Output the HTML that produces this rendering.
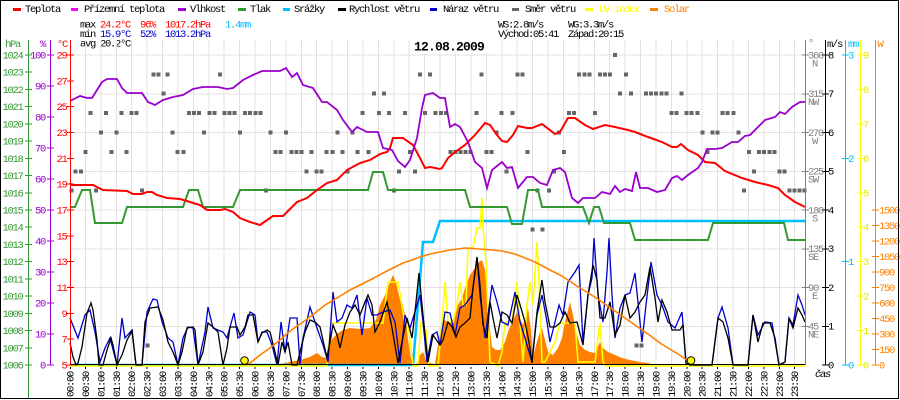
<!DOCTYPE html>
<html><head><meta charset="utf-8"><style>
html,body{margin:0;padding:0;background:#fff;}
svg{display:block;}
text{font-family:"Liberation Mono",monospace;font-size:10.5px;letter-spacing:-1.3px;}
</style></head><body>
<svg width="900" height="400" viewBox="0 0 900 400" xmlns="http://www.w3.org/2000/svg">
<rect x="0" y="0" width="900" height="400" fill="#fff"/>
<!-- legend -->
<g stroke-width="3">
<line x1="13" y1="9.5" x2="21" y2="9.5" stroke="#ff0000"/>
<line x1="71" y1="9.5" x2="78" y2="9.5" stroke="#ff00ff"/>
<line x1="178" y1="9.5" x2="186" y2="9.5" stroke="#9900cc"/>
<line x1="238" y1="9.5" x2="246" y2="9.5" stroke="#339933"/>
<line x1="283" y1="9.5" x2="290" y2="9.5" stroke="#00bfff"/>
<line x1="338" y1="9.5" x2="346" y2="9.5" stroke="#000"/>
<line x1="430" y1="9.5" x2="437" y2="9.5" stroke="#0000cc"/>
<line x1="512" y1="9.5" x2="519" y2="9.5" stroke="#666"/>
<line x1="585" y1="9.5" x2="593" y2="9.5" stroke="#ffff00"/>
<line x1="650" y1="9.5" x2="658" y2="9.5" stroke="#ff8000"/>
</g>
<g fill="#000">
<text x="25" y="12">Teplota</text>
<text x="84" y="12">Přízemní teplota</text>
<text x="190" y="12">Vlhkost</text>
<text x="250" y="12">Tlak</text>
<text x="294" y="12">Srážky</text>
<text x="349" y="12">Rychlost větru</text>
<text x="443" y="12">Náraz větru</text>
<text x="525" y="12">Směr větru</text>
<text x="599" y="12" fill="#ffff00">UV index</text>
<text x="664" y="12" fill="#ff8000">Solar</text>
</g>
<!-- stats -->
<text x="80" y="27.5">max</text>
<text x="100" y="27.5" fill="#ff0000">24.2°C</text>
<text x="140" y="27.5" fill="#ff0000">96%</text>
<text x="165" y="27.5" fill="#ff0000">1017.2hPa</text>
<text x="225" y="27.5" fill="#00bfff">1.4mm</text>
<text x="80" y="37">min</text>
<text x="100" y="37" fill="#0000cc">15.9°C</text>
<text x="140" y="37" fill="#0000cc">52%</text>
<text x="165" y="37" fill="#0000cc">1013.2hPa</text>
<text x="80" y="46.5">avg 20.2°C</text>
<text x="498" y="27.5">WS:2.8m/s</text>
<text x="568" y="27.5">WG:3.3m/s</text>
<text x="498" y="37">Východ:05:41</text>
<text x="568" y="37">Západ:20:15</text>

<!-- grid -->
<g stroke="#e4e0e0" stroke-width="1" shape-rendering="crispEdges">
<line x1="70" y1="55" x2="805" y2="55"/>
<line x1="70" y1="93.75" x2="805" y2="93.75"/>
<line x1="70" y1="132.5" x2="805" y2="132.5"/>
<line x1="70" y1="171.25" x2="805" y2="171.25"/>
<line x1="70" y1="210" x2="805" y2="210"/>
<line x1="70" y1="248.75" x2="805" y2="248.75"/>
<line x1="70" y1="287.5" x2="805" y2="287.5"/>
<line x1="70" y1="326.25" x2="805" y2="326.25"/>
<line x1="85.4" y1="40" x2="85.4" y2="365"/>
<line x1="100.8" y1="40" x2="100.8" y2="365"/>
<line x1="116.3" y1="40" x2="116.3" y2="365"/>
<line x1="131.7" y1="40" x2="131.7" y2="365"/>
<line x1="147.1" y1="40" x2="147.1" y2="365"/>
<line x1="162.5" y1="40" x2="162.5" y2="365"/>
<line x1="177.9" y1="40" x2="177.9" y2="365"/>
<line x1="193.4" y1="40" x2="193.4" y2="365"/>
<line x1="208.8" y1="40" x2="208.8" y2="365"/>
<line x1="224.2" y1="40" x2="224.2" y2="365"/>
<line x1="239.6" y1="40" x2="239.6" y2="365"/>
<line x1="255" y1="40" x2="255" y2="365"/>
<line x1="270.5" y1="40" x2="270.5" y2="365"/>
<line x1="285.9" y1="40" x2="285.9" y2="365"/>
<line x1="301.3" y1="40" x2="301.3" y2="365"/>
<line x1="316.7" y1="40" x2="316.7" y2="365"/>
<line x1="332.1" y1="40" x2="332.1" y2="365"/>
<line x1="347.6" y1="40" x2="347.6" y2="365"/>
<line x1="363" y1="40" x2="363" y2="365"/>
<line x1="378.4" y1="40" x2="378.4" y2="365"/>
<line x1="393.8" y1="40" x2="393.8" y2="365"/>
<line x1="409.2" y1="40" x2="409.2" y2="365"/>
<line x1="424.7" y1="40" x2="424.7" y2="365"/>
<line x1="440.1" y1="40" x2="440.1" y2="365"/>
<line x1="455.5" y1="40" x2="455.5" y2="365"/>
<line x1="470.9" y1="40" x2="470.9" y2="365"/>
<line x1="486.3" y1="40" x2="486.3" y2="365"/>
<line x1="501.8" y1="40" x2="501.8" y2="365"/>
<line x1="517.2" y1="40" x2="517.2" y2="365"/>
<line x1="532.6" y1="40" x2="532.6" y2="365"/>
<line x1="548" y1="40" x2="548" y2="365"/>
<line x1="563.4" y1="40" x2="563.4" y2="365"/>
<line x1="578.9" y1="40" x2="578.9" y2="365"/>
<line x1="594.3" y1="40" x2="594.3" y2="365"/>
<line x1="609.7" y1="40" x2="609.7" y2="365"/>
<line x1="625.1" y1="40" x2="625.1" y2="365"/>
<line x1="640.5" y1="40" x2="640.5" y2="365"/>
<line x1="656" y1="40" x2="656" y2="365"/>
<line x1="671.4" y1="40" x2="671.4" y2="365"/>
<line x1="686.8" y1="40" x2="686.8" y2="365"/>
<line x1="702.2" y1="40" x2="702.2" y2="365"/>
<line x1="717.6" y1="40" x2="717.6" y2="365"/>
<line x1="733.1" y1="40" x2="733.1" y2="365"/>
<line x1="748.5" y1="40" x2="748.5" y2="365"/>
<line x1="763.9" y1="40" x2="763.9" y2="365"/>
<line x1="779.3" y1="40" x2="779.3" y2="365"/>
<line x1="794.7" y1="40" x2="794.7" y2="365"/>
</g>
<rect x="412" y="40" width="75" height="13" fill="#fff"/>
<text x="414" y="50.5" style="font-size:13px;font-weight:bold;letter-spacing:-0.8px">12.08.2009</text>

<!-- solar measured -->
<polygon fill="#ff8000" points="266,365 280,364 290,362 300,360 310,357 317,353 322,357 326,358 328,345 333,338 338,333 343,330 350,328 360,329 370,328 376,320 380,305 385,295 390,282 393,275 396,282 400,300 403,305 406,320 408,340 411,358 413,363 416,365 420,355 423,352 426,360 430,363 435,364 438,345 441,328 444,320 448,322 452,323 455,315 458,305 462,298 466,285 470,275 475,268 479,262 482,260 485,270 488,305 490,330 492,347 496,350 500,350 505,342 508,332 512,322 517,312 520,318 523,325 526,316 528,308 531,330 533,358 536,345 539,335 542,328 545,340 548,352 553,355 558,348 562,338 565,322 568,310 570,302 573,315 576,332 580,345 585,350 590,352 595,353 600,342 603,348 608,352 615,355 622,358 630,360 640,362 648,363 655,365"/>

<!-- rain -->
<polyline fill="none" stroke="#00bfff" stroke-width="2.5" points="70,365 413,365 423,242 433,242 440,221 805,221"/>

<!-- UV -->
<polyline fill="none" stroke="#ffff00" stroke-width="1.6" points="70,366 327,366 331,323 383,323 388,282 398,282 405,323 408,323 413,366 418,366 421,322 426,330 429,366 438,366 442,322 445,282 448,322 453,322 457,305 460,282 463,305 466,305 468,248 473,248 477,228 480,228 482,198 483,228 486,262 490,362 498,366 502,352 505,322 512,322 517,282 520,322 523,362 527,305 530,282 533,305 537,242 539,282 542,362 545,362 550,352 555,342 560,323 575,323 578,362 595,362 598,338 600,323 603,362 606,366 805,366"/>

<!-- gust -->
<polyline fill="none" stroke="#0000cc" stroke-width="1.3" points="70,318 78,338 85,315 90,310 95,332 100,362 105,348 110,338 117,365 122,318 125,338 132,330 136,365 142,365 147,312 153,299 157,300 162,322 168,338 173,342 178,365 183,338 188,327 193,328 198,365 205,332 208,307 213,328 223,332 227,338 230,327 234,313 238,338 243,335 250,312 255,315 258,342 262,332 267,332 272,345 277,365 281,322 285,352 290,318 297,318 300,365 303,338 310,307 317,328 323,345 328,362 333,292 337,322 342,318 347,305 352,308 357,295 362,335 367,298 372,315 377,315 383,312 390,310 395,322 400,363 405,315 410,328 417,305 420,295 423,322 427,362 432,335 437,332 440,345 445,312 450,313 455,335 460,308 465,305 472,295 477,258 480,295 485,338 492,285 497,302 502,322 508,325 515,292 520,322 525,338 532,362 537,315 542,295 547,322 550,342 555,322 559,305 563,315 568,282 575,272 579,265 583,342 588,295 592,278 594,238 598,295 603,322 607,272 609,238 612,295 615,338 620,308 625,295 630,293 635,273 642,342 646,305 651,262 657,295 662,305 668,322 675,328 682,312 686,363 690,365 712,365 718,318 722,307 728,328 733,365 748,365 753,315 758,335 765,322 772,323 779,365 785,362 789,318 793,325 798,295 802,305 805,315"/>

<!-- wind speed -->
<polyline fill="none" stroke="#000" stroke-width="1.3" points="70,343 73,357 76,365 78,363 82,347 87,313 91,303 93,310 97,340 99,365 103,365 107,350 111,338 113,345 117,365 122,355 127,340 132,331 136,365 142,365 145,322 150,308 158,307 163,320 168,342 173,352 178,365 182,352 187,328 193,327 195,330 198,365 203,352 208,323 213,327 218,332 223,365 227,348 230,327 237,327 240,335 245,327 248,315 253,315 258,342 262,333 267,330 270,332 274,348 278,365 282,342 285,352 288,342 292,365 297,365 300,352 305,332 310,320 315,322 320,327 327,358 330,342 333,325 337,335 340,348 345,325 350,312 355,305 360,315 365,302 368,295 372,305 375,332 380,322 387,302 392,328 398,363 402,342 407,318 412,338 415,312 419,273 423,315 428,362 433,335 440,345 443,340 448,322 452,327 456,337 460,327 465,323 470,318 473,288 477,257 480,285 483,325 487,338 490,302 493,318 497,338 502,312 507,315 512,323 517,295 521,308 525,322 529,342 532,363 537,312 542,280 545,302 550,327 555,327 560,323 565,312 570,323 577,322 583,345 588,295 593,265 597,280 600,318 605,318 610,302 615,335 620,325 625,295 630,318 635,312 640,302 645,295 650,267 655,298 658,322 662,300 667,312 672,330 680,330 683,325 686,363 690,365 712,365 718,318 723,322 728,338 733,365 748,365 753,315 758,342 763,323 770,323 775,338 779,365 785,362 789,318 793,328 798,308 802,315 805,322"/>

<!-- theoretical solar -->
<polyline fill="none" stroke="#ff8000" stroke-width="1.6" points="244,365 250,363 260,355 270,348 280,340 290,331 303,322 315,313 325,305 337,298 350,290 360,285 370,280 385,272 395,267 403,263 412,260 420,257 430,254 440,252 450,250 465,248 480,249 492,250 502,251 515,254 525,258 535,262 550,270 560,275 568,280 580,288 590,294 602,302 615,311 625,318 635,325 648,334 660,343 668,348 678,354 688,361 692,364"/>
<circle cx="244.5" cy="360.5" r="3.8" fill="#ffff00" stroke="#000" stroke-width="1"/>
<circle cx="691" cy="360.5" r="3.8" fill="#ffff00" stroke="#000" stroke-width="1"/>

<!-- wind direction squares -->
<g fill="#666" shape-rendering="crispEdges" transform="translate(0.5,0.5)">
<rect x="150.8" y="71.9" width="4" height="4"/><rect x="155.8" y="71.9" width="4" height="4"/><rect x="165.2" y="71.9" width="4" height="4"/><rect x="217.5" y="71.9" width="4" height="4"/><rect x="417.5" y="71.9" width="4" height="4"/><rect x="427.5" y="71.9" width="4" height="4"/><rect x="479.2" y="71.9" width="4" height="4"/><rect x="515.2" y="71.9" width="4" height="4"/><rect x="520.2" y="71.9" width="4" height="4"/><rect x="576.5" y="71.9" width="4" height="4"/><rect x="581.8" y="71.9" width="4" height="4"/><rect x="586.8" y="71.9" width="4" height="4"/><rect x="597.5" y="71.9" width="4" height="4"/><rect x="602.5" y="71.9" width="4" height="4"/><rect x="607.5" y="71.9" width="4" height="4"/><rect x="623.5" y="71.9" width="4" height="4"/>
<rect x="160.8" y="91.2" width="4" height="4"/><rect x="371.5" y="91.2" width="4" height="4"/><rect x="381.5" y="91.2" width="4" height="4"/><rect x="617.5" y="91.2" width="4" height="4"/><rect x="628.5" y="91.2" width="4" height="4"/><rect x="643.5" y="91.2" width="4" height="4"/><rect x="648.5" y="91.2" width="4" height="4"/><rect x="653.5" y="91.2" width="4" height="4"/><rect x="659.2" y="91.2" width="4" height="4"/><rect x="664.2" y="91.2" width="4" height="4"/><rect x="679.2" y="91.2" width="4" height="4"/>
<rect x="88.2" y="110.6" width="4" height="4"/><rect x="103.5" y="110.6" width="4" height="4"/><rect x="119.2" y="110.6" width="4" height="4"/><rect x="129.2" y="110.6" width="4" height="4"/><rect x="134.2" y="110.6" width="4" height="4"/><rect x="186.5" y="110.6" width="4" height="4"/><rect x="191.5" y="110.6" width="4" height="4"/><rect x="196.5" y="110.6" width="4" height="4"/><rect x="206.8" y="110.6" width="4" height="4"/><rect x="211.8" y="110.6" width="4" height="4"/><rect x="222.2" y="110.6" width="4" height="4"/><rect x="227.2" y="110.6" width="4" height="4"/><rect x="232.2" y="110.6" width="4" height="4"/><rect x="242.5" y="110.6" width="4" height="4"/><rect x="247.5" y="110.6" width="4" height="4"/><rect x="252.8" y="110.6" width="4" height="4"/><rect x="258.2" y="110.6" width="4" height="4"/><rect x="360.2" y="110.6" width="4" height="4"/><rect x="376.5" y="110.6" width="4" height="4"/><rect x="386.5" y="110.6" width="4" height="4"/><rect x="402.5" y="110.6" width="4" height="4"/><rect x="422.5" y="110.6" width="4" height="4"/><rect x="433" y="110.6" width="4" height="4"/><rect x="438.5" y="110.6" width="4" height="4"/><rect x="443.5" y="110.6" width="4" height="4"/><rect x="474.2" y="110.6" width="4" height="4"/><rect x="499.2" y="110.6" width="4" height="4"/><rect x="510.2" y="110.6" width="4" height="4"/><rect x="566.5" y="110.6" width="4" height="4"/><rect x="571.5" y="110.6" width="4" height="4"/><rect x="592.5" y="110.6" width="4" height="4"/><rect x="669.2" y="110.6" width="4" height="4"/><rect x="674.2" y="110.6" width="4" height="4"/><rect x="684.2" y="110.6" width="4" height="4"/><rect x="689.2" y="110.6" width="4" height="4"/><rect x="695.2" y="110.6" width="4" height="4"/><rect x="719.8" y="110.6" width="4" height="4"/><rect x="725.2" y="110.6" width="4" height="4"/><rect x="730.8" y="110.6" width="4" height="4"/>
<rect x="98.5" y="130" width="4" height="4"/><rect x="114.2" y="130" width="4" height="4"/><rect x="170.2" y="130" width="4" height="4"/><rect x="201.5" y="130" width="4" height="4"/><rect x="237.5" y="130" width="4" height="4"/><rect x="268.2" y="130" width="4" height="4"/><rect x="283.5" y="130" width="4" height="4"/><rect x="335.2" y="130" width="4" height="4"/><rect x="350.2" y="130" width="4" height="4"/><rect x="494.2" y="130" width="4" height="4"/><rect x="556.5" y="130" width="4" height="4"/><rect x="700.2" y="130" width="4" height="4"/><rect x="710.2" y="130" width="4" height="4"/><rect x="715.2" y="130" width="4" height="4"/><rect x="735.8" y="130" width="4" height="4"/>
<rect x="83.2" y="149.4" width="4" height="4"/><rect x="109.2" y="149.4" width="4" height="4"/><rect x="124.2" y="149.4" width="4" height="4"/><rect x="175.2" y="149.4" width="4" height="4"/><rect x="180.8" y="149.4" width="4" height="4"/><rect x="273.2" y="149.4" width="4" height="4"/><rect x="278.2" y="149.4" width="4" height="4"/><rect x="289.2" y="149.4" width="4" height="4"/><rect x="294.2" y="149.4" width="4" height="4"/><rect x="299.2" y="149.4" width="4" height="4"/><rect x="309.2" y="149.4" width="4" height="4"/><rect x="324.2" y="149.4" width="4" height="4"/><rect x="329.8" y="149.4" width="4" height="4"/><rect x="340.2" y="149.4" width="4" height="4"/><rect x="355.2" y="149.4" width="4" height="4"/><rect x="365.8" y="149.4" width="4" height="4"/><rect x="407.5" y="149.4" width="4" height="4"/><rect x="448.2" y="149.4" width="4" height="4"/><rect x="453.2" y="149.4" width="4" height="4"/><rect x="458.2" y="149.4" width="4" height="4"/><rect x="463.2" y="149.4" width="4" height="4"/><rect x="468.2" y="149.4" width="4" height="4"/><rect x="484.2" y="149.4" width="4" height="4"/><rect x="489.2" y="149.4" width="4" height="4"/><rect x="525.2" y="149.4" width="4" height="4"/><rect x="561.5" y="149.4" width="4" height="4"/><rect x="705.2" y="149.4" width="4" height="4"/><rect x="746.5" y="149.4" width="4" height="4"/><rect x="756.5" y="149.4" width="4" height="4"/><rect x="761.5" y="149.4" width="4" height="4"/><rect x="766.8" y="149.4" width="4" height="4"/><rect x="771.8" y="149.4" width="4" height="4"/>
<rect x="73.2" y="168.8" width="4" height="4"/><rect x="78.5" y="168.8" width="4" height="4"/><rect x="304.2" y="168.8" width="4" height="4"/><rect x="314.2" y="168.8" width="4" height="4"/><rect x="319.2" y="168.8" width="4" height="4"/><rect x="345.2" y="168.8" width="4" height="4"/><rect x="396.5" y="168.8" width="4" height="4"/><rect x="412.5" y="168.8" width="4" height="4"/><rect x="504.2" y="168.8" width="4" height="4"/><rect x="551.5" y="168.8" width="4" height="4"/><rect x="751.5" y="168.8" width="4" height="4"/><rect x="776.8" y="168.8" width="4" height="4"/><rect x="781.8" y="168.8" width="4" height="4"/>
<rect x="69" y="188.1" width="4" height="4"/><rect x="93.5" y="188.1" width="4" height="4"/><rect x="139.5" y="188.1" width="4" height="4"/><rect x="263.5" y="188.1" width="4" height="4"/><rect x="391.5" y="188.1" width="4" height="4"/><rect x="535.2" y="188.1" width="4" height="4"/><rect x="546.5" y="188.1" width="4" height="4"/><rect x="741.5" y="188.1" width="4" height="4"/><rect x="786.8" y="188.1" width="4" height="4"/><rect x="791.8" y="188.1" width="4" height="4"/><rect x="796.8" y="188.1" width="4" height="4"/><rect x="801.8" y="188.1" width="4" height="4"/>
<rect x="530.2" y="226.9" width="4" height="4"/><rect x="540.2" y="226.9" width="4" height="4"/>
<rect x="612.5" y="52.5" width="4" height="4"/>
<rect x="145.2" y="343.2" width="4" height="4"/><rect x="634.2" y="343.2" width="4" height="4"/><rect x="639.2" y="343.2" width="4" height="4"/>
</g>

<!-- pressure -->
<polyline fill="none" stroke="#339933" stroke-width="2" points="70,207 75,207 82,190 90,190 95,223 122,223 127,207 183,207 189,190 198,190 203,207 233,207 240,190 368,190 373,172 383,172 388,190 465,190 470,207 507,207 512,224 522,224 528,190 538,190 542,207 583,207 589,223 594,207 599,207 604,223 630,223 635,240 708,240 713,223 784,223 788,240 805,240"/>

<!-- temperature -->
<polyline fill="none" stroke="#ff0000" stroke-width="2" points="70,183 72,185 93,185 95,186 103,190 127,191 133,194 142,194 147,192 152,192 157,195 167,198 180,199 187,201 193,203 200,205 207,210 220,210 225,209 233,212 240,218 250,222 260,225 270,218 273,216 283,216 290,209 297,202 307,198 317,190 327,183 337,180 347,170 360,163 370,160 380,154 387,152 390,148 393,138 403,138 413,145 420,158 425,168 430,167 440,169 442,168 448,158 455,152 465,145 475,135 485,123 490,125 497,135 502,141 507,142 513,135 518,126 527,128 532,128 542,124 555,134 560,132 568,118 575,118 585,125 593,129 605,125 615,127 628,130 635,132 648,137 662,142 672,147 677,147 681,144 688,150 698,155 705,162 715,163 725,171 742,178 755,182 768,185 778,188 785,195 795,202 805,207"/>

<!-- humidity -->
<polyline fill="none" stroke="#9900cc" stroke-width="1.8" points="70,101 80,96 87,98 92,98 97,90 102,82 107,79 117,79 122,88 127,93 142,93 148,102 155,105 163,100 173,97 183,95 193,89 203,87 218,87 227,89 233,88 243,80 253,75 262,71 280,71 286,68 292,77 297,73 303,85 313,88 322,102 327,102 337,110 343,120 352,132 357,127 367,132 378,132 383,148 392,150 398,161 405,167 410,160 417,138 422,108 425,95 433,93 440,98 445,98 450,127 455,124 460,127 468,142 475,162 482,168 487,188 492,170 502,162 507,168 512,167 518,188 527,177 533,177 540,183 547,185 553,170 560,168 565,172 572,198 578,203 583,198 595,198 602,192 610,194 615,186 620,192 625,189 632,191 636,172 640,188 648,188 657,192 665,190 672,178 677,176 682,180 688,175 698,168 702,162 707,149 715,149 722,148 732,142 738,142 745,136 750,135 758,127 765,120 775,117 780,112 785,114 792,107 800,102 805,102"/>

<!-- axes -->
<g shape-rendering="crispEdges" stroke-width="1">
<line x1="28.5" y1="40" x2="28.5" y2="398" stroke="#339933"/>
<line x1="50.5" y1="40" x2="50.5" y2="365" stroke="#9900cc"/>
<line x1="70.5" y1="40" x2="70.5" y2="365" stroke="#ff0000"/>
<line x1="805.5" y1="40" x2="805.5" y2="365" stroke="#808080"/>
<line x1="825.5" y1="40" x2="825.5" y2="365" stroke="#000"/>
<line x1="845.5" y1="40" x2="845.5" y2="365" stroke="#00bfff"/>
<line x1="860.5" y1="40" x2="860.5" y2="365" stroke="#ffff00"/>
<line x1="875.5" y1="40" x2="875.5" y2="365" stroke="#ff8000"/>
<line x1="70" y1="364.5" x2="805" y2="364.5" stroke="#000"/>
</g>
<!-- left ticks -->
<g stroke="#339933" shape-rendering="crispEdges">
<path d="M25 55h7M25 72.2h7M25 89.4h7M25 106.7h7M25 123.9h7M25 141.1h7M25 158.3h7M25 175.6h7M25 192.8h7M25 210h7M25 227.2h7M25 244.4h7M25 261.7h7M25 278.9h7M25 296.1h7M25 313.3h7M25 330.6h7M25 347.8h7M25 365h7"/>
</g>
<g stroke="#9900cc" shape-rendering="crispEdges">
<path d="M47 55h7M47 86h7M47 117h7M47 148h7M47 179h7M47 210h7M47 241h7M47 272h7M47 303h7M47 334h7M47 365h7"/>
</g>
<g stroke="#ff0000" shape-rendering="crispEdges">
<path d="M67 55h7M67 80.8h7M67 106.7h7M67 132.5h7M67 158.3h7M67 184.2h7M67 210h7M67 235.8h7M67 261.7h7M67 287.5h7M67 313.3h7M67 339.2h7M67 365h7"/>
</g>
<g stroke="#808080" shape-rendering="crispEdges"><path d="M802 55h7M802 93.75h7M802 132.5h7M802 171.25h7M802 210h7M802 248.75h7M802 287.5h7M802 326.25h7"/></g>
<g stroke="#000" shape-rendering="crispEdges"><path d="M822 55h7M822 93.75h7M822 132.5h7M822 171.25h7M822 210h7M822 248.75h7M822 287.5h7M822 326.25h7M822 365h7"/></g>
<g stroke="#00bfff" shape-rendering="crispEdges"><path d="M842 55h7M842 158.3h7M842 261.7h7M842 365h7"/></g>
<g stroke="#ffff00" shape-rendering="crispEdges"><path d="M857 55h7M857 89.4h7M857 123.9h7M857 158.3h7M857 192.8h7M857 227.2h7M857 261.7h7M857 296.1h7M857 330.6h7M857 365h7"/></g>
<g stroke="#ff8000" shape-rendering="crispEdges"><path d="M872 210h7M872 225.5h7M872 241h7M872 256.5h7M872 272h7M872 287.5h7M872 303h7M872 318.5h7M872 334h7M872 349.5h7M872 365h7"/></g>
<!-- bottom ticks -->
<g stroke="#000" shape-rendering="crispEdges">
<path d="M70.5 367v2M85.4 367v2M100.8 367v2M116.3 367v2M131.7 367v2M147.1 367v2M162.5 367v2M177.9 367v2M193.4 367v2M208.8 367v2M224.2 367v2M239.6 367v2M255 367v2M270.5 367v2M285.9 367v2M301.3 367v2M316.7 367v2M332.1 367v2M347.6 367v2M363 367v2M378.4 367v2M393.8 367v2M409.2 367v2M424.7 367v2M440.1 367v2M455.5 367v2M470.9 367v2M486.3 367v2M501.8 367v2M517.2 367v2M532.6 367v2M548 367v2M563.4 367v2M578.9 367v2M594.3 367v2M609.7 367v2M625.1 367v2M640.5 367v2M656 367v2M671.4 367v2M686.8 367v2M702.2 367v2M717.6 367v2M733.1 367v2M748.5 367v2M763.9 367v2M779.3 367v2M794.7 367v2"/>
</g>

<!-- left axis labels -->
<text x="5" y="47" fill="#339933">hPa</text>
<text x="40" y="47" fill="#9900cc">%</text>
<text x="57" y="47" fill="#ff0000">°C</text>
<g fill="#339933" text-anchor="end">
<text x="22.5" y="58.5">1024</text><text x="22.5" y="75.7">1023</text><text x="22.5" y="92.9">1022</text><text x="22.5" y="110.2">1021</text><text x="22.5" y="127.4">1020</text><text x="22.5" y="144.6">1019</text><text x="22.5" y="161.8">1018</text><text x="22.5" y="179.1">1017</text><text x="22.5" y="196.3">1016</text><text x="22.5" y="213.5">1015</text><text x="22.5" y="230.7">1014</text><text x="22.5" y="247.9">1013</text><text x="22.5" y="265.2">1012</text><text x="22.5" y="282.4">1011</text><text x="22.5" y="299.6">1010</text><text x="22.5" y="316.8">1009</text><text x="22.5" y="334.1">1008</text><text x="22.5" y="351.3">1007</text><text x="22.5" y="368.5">1006</text>
</g>
<g fill="#9900cc" text-anchor="end">
<text x="45" y="58.5">100</text><text x="45" y="89.5">90</text><text x="45" y="120.5">80</text><text x="45" y="151.5">70</text><text x="45" y="182.5">60</text><text x="45" y="213.5">50</text><text x="45" y="244.5">40</text><text x="45" y="275.5">30</text><text x="45" y="306.5">20</text><text x="45" y="337.5">10</text><text x="45" y="368.5">0</text>
</g>
<g fill="#ff0000" text-anchor="end">
<text x="66.5" y="58.5">29</text><text x="66.5" y="84.3">27</text><text x="66.5" y="110.2">25</text><text x="66.5" y="136">23</text><text x="66.5" y="161.8">21</text><text x="66.5" y="187.7">19</text><text x="66.5" y="213.5">17</text><text x="66.5" y="239.3">15</text><text x="66.5" y="265.2">13</text><text x="66.5" y="291">11</text><text x="66.5" y="316.8">9</text><text x="66.5" y="342.7">7</text><text x="66.5" y="368.5">5</text>
</g>

<!-- right axis labels -->
<text x="808" y="46" fill="#808080">°</text>
<text x="827" y="47">m/s</text>
<text x="848" y="47" fill="#00bfff">mm</text>
<text x="877.5" y="47" fill="#ff8000">W</text>
<g fill="#808080">
<text x="808" y="58.5">360</text><text x="812" y="66.5">N</text>
<text x="808" y="97.2">315</text><text x="808" y="105.2">NW</text>
<text x="808" y="136">270</text><text x="812" y="144">W</text>
<text x="808" y="174.7">225</text><text x="808" y="182.7">SW</text>
<text x="808" y="213.5">180</text><text x="812" y="221.5">S</text>
<text x="808" y="252.2">135</text><text x="808" y="260.2">SE</text>
<text x="808" y="291">90</text><text x="812" y="299">E</text>
<text x="808" y="329.7">45</text><text x="808" y="337.7">NE</text>
</g>
<g fill="#000">
<text x="828" y="58.5">8</text><text x="828" y="97.2">7</text><text x="828" y="136">6</text><text x="828" y="174.7">5</text><text x="828" y="213.5">4</text><text x="828" y="252.2">3</text><text x="828" y="291">2</text><text x="828" y="329.7">1</text><text x="828" y="368.5">0</text>
</g>
<g fill="#00bfff">
<text x="848" y="58.5">3</text><text x="848" y="161.8">2</text><text x="848" y="265.2">1</text><text x="848" y="368.5">0</text>
</g>
<g fill="#e8e800">
<text x="863" y="58.5">9</text><text x="863" y="92.9">8</text><text x="863" y="127.4">7</text><text x="863" y="161.8">6</text><text x="863" y="196.3">5</text><text x="863" y="230.7">4</text><text x="863" y="265.2">3</text><text x="863" y="299.6">2</text><text x="863" y="334.1">1</text><text x="863" y="368.5">0</text>
</g>
<g fill="#ff8000">
<text x="879" y="213.5">1500</text><text x="879" y="229">1350</text><text x="879" y="244.5">1200</text><text x="879" y="260">1050</text><text x="879" y="275.5">900</text><text x="879" y="291">750</text><text x="879" y="306.5">600</text><text x="879" y="322">450</text><text x="879" y="337.5">300</text><text x="879" y="353">150</text><text x="879" y="368.5">0</text>
</g>
<text x="815" y="377" style="font-style:italic">čas</text>

<!-- time labels -->
<g fill="#000">
<text transform="translate(73.5,397) rotate(-90)">00:00</text>
<text transform="translate(88.9,397) rotate(-90)">00:30</text>
<text transform="translate(104.3,397) rotate(-90)">01:00</text>
<text transform="translate(119.8,397) rotate(-90)">01:30</text>
<text transform="translate(135.2,397) rotate(-90)">02:00</text>
<text transform="translate(150.6,397) rotate(-90)">02:30</text>
<text transform="translate(166,397) rotate(-90)">03:00</text>
<text transform="translate(181.4,397) rotate(-90)">03:30</text>
<text transform="translate(196.9,397) rotate(-90)">04:00</text>
<text transform="translate(212.3,397) rotate(-90)">04:30</text>
<text transform="translate(227.7,397) rotate(-90)">05:00</text>
<text transform="translate(243.1,397) rotate(-90)">05:30</text>
<text transform="translate(258.5,397) rotate(-90)">06:00</text>
<text transform="translate(274,397) rotate(-90)">06:30</text>
<text transform="translate(289.4,397) rotate(-90)">07:00</text>
<text transform="translate(304.8,397) rotate(-90)">07:30</text>
<text transform="translate(320.2,397) rotate(-90)">08:00</text>
<text transform="translate(335.6,397) rotate(-90)">08:30</text>
<text transform="translate(351.1,397) rotate(-90)">09:00</text>
<text transform="translate(366.5,397) rotate(-90)">09:30</text>
<text transform="translate(381.9,397) rotate(-90)">10:00</text>
<text transform="translate(397.3,397) rotate(-90)">10:30</text>
<text transform="translate(412.7,397) rotate(-90)">11:00</text>
<text transform="translate(428.2,397) rotate(-90)">11:30</text>
<text transform="translate(443.6,397) rotate(-90)">12:00</text>
<text transform="translate(459,397) rotate(-90)">12:30</text>
<text transform="translate(474.4,397) rotate(-90)">13:00</text>
<text transform="translate(489.8,397) rotate(-90)">13:30</text>
<text transform="translate(505.3,397) rotate(-90)">14:00</text>
<text transform="translate(520.7,397) rotate(-90)">14:30</text>
<text transform="translate(536.1,397) rotate(-90)">15:00</text>
<text transform="translate(551.5,397) rotate(-90)">15:30</text>
<text transform="translate(566.9,397) rotate(-90)">16:00</text>
<text transform="translate(582.4,397) rotate(-90)">16:30</text>
<text transform="translate(597.8,397) rotate(-90)">17:00</text>
<text transform="translate(613.2,397) rotate(-90)">17:30</text>
<text transform="translate(628.6,397) rotate(-90)">18:00</text>
<text transform="translate(644,397) rotate(-90)">18:30</text>
<text transform="translate(659.5,397) rotate(-90)">19:00</text>
<text transform="translate(674.9,397) rotate(-90)">19:30</text>
<text transform="translate(690.3,397) rotate(-90)">20:00</text>
<text transform="translate(705.7,397) rotate(-90)">20:30</text>
<text transform="translate(721.1,397) rotate(-90)">21:00</text>
<text transform="translate(736.6,397) rotate(-90)">21:30</text>
<text transform="translate(752,397) rotate(-90)">22:00</text>
<text transform="translate(767.4,397) rotate(-90)">22:30</text>
<text transform="translate(782.8,397) rotate(-90)">23:00</text>
<text transform="translate(798.2,397) rotate(-90)">23:30</text>
</g>

<!-- frame -->
<rect x="0.5" y="0.5" width="898" height="398" fill="none" stroke="#000" stroke-width="1" shape-rendering="crispEdges"/>
</svg>
</body></html>
